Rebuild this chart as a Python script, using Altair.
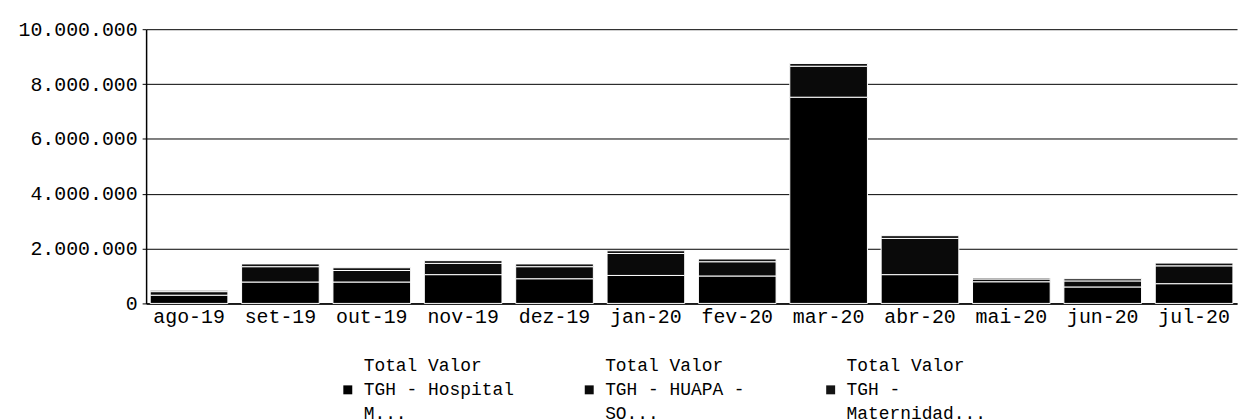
import altair as alt
import pandas as pd

months = ["ago-19", "set-19", "out-19", "nov-19", "dez-19", "jan-20",
          "fev-20", "mar-20", "abr-20", "mai-20", "jun-20", "jul-20"]
series = ["Total Valor\nTGH - Hospital\nM...",
          "Total Valor\nTGH - HUAPA -\nSO...",
          "Total Valor\nTGH -\nMaternidad..."]
hospital_m = [300000, 780000, 780000, 1050000, 900000, 1020000,
              1000000, 7520000, 1050000, 790000, 600000, 720000]
huapa_so = [130000, 560000, 420000, 410000, 440000, 800000,
            520000, 1130000, 1320000, 100000, 220000, 650000]
maternidad = [50000, 100000, 100000, 100000, 100000, 100000,
              100000, 100000, 100000, 40000, 80000, 100000]
colors = ["#000000", "#0a0a0a", "#141414"]
y_ticks = [0, 2000000, 4000000, 6000000, 8000000, 10000000]

rows = []
for i, vals in enumerate([hospital_m, huapa_so, maternidad]):
    for m, v in zip(months, vals):
        rows.append({"mes": m, "serie": series[i], "idx": i, "valor": v})
df = pd.DataFrame(rows)

FONT = "Liberation Mono"

chart = alt.Chart(df).mark_bar(stroke="white", strokeWidth=1).encode(
    x=alt.X("mes:N", sort=months,
            scale=alt.Scale(paddingInner=0.15, paddingOuter=0.045),
            axis=alt.Axis(title=None, labelAngle=0, ticks=False, labelPadding=3,
                          labelFont=FONT, labelFontSize=20, labelColor="black",
                          domainColor="black", domainWidth=1.5, grid=False)),
    y=alt.Y("valor:Q", stack="zero",
            scale=alt.Scale(domain=[0, 10000000], nice=False),
            axis=alt.Axis(title=None, values=y_ticks, format=",d",
                          labelFont=FONT, labelFontSize=20, labelColor="black",
                          tickColor="black", tickSize=4, labelPadding=5,
                          domainColor="black", domainWidth=1.5,
                          grid=True, gridColor="black", gridWidth=1, gridOpacity=1)),
    color=alt.Color("serie:N", sort=series,
                    scale=alt.Scale(domain=series, range=colors),
                    legend=alt.Legend(title=None, orient="none", legendX=194, legendY=330,
                                      direction="horizontal", columns=3,
                                      gridAlign="all", columnPadding=66,
                                      symbolType="M-1,4.33L1,4.33L1,6.33L-1,6.33Z",
                                      symbolSize=81,
                                      symbolStrokeWidth=0, symbolOpacity=1,
                                      labelFont=FONT, labelFontSize=18,
                                      labelColor="black", labelOffset=7,
                                      labelLimit=400,
                                      labelExpr="split(datum.label, '\\n')")),
    order=alt.Order("idx:Q", sort="ascending"),
).properties(
    width=1098, height=276,
    autosize=alt.AutoSizeParams(type="none"),
    padding={"left": 139, "top": 20, "right": 4, "bottom": 116},
).configure(
    locale=alt.Locale(number=alt.NumberLocale(decimal=",", thousands=".",
                                              grouping=[3], currency=["R$", ""])),
    style={"guide-label": {"lineHeight": 24}},
).configure_view(stroke=None).configure_legend(padding=0)

chart.save("out.html", embed_options={"renderer": "svg", "actions": False})
